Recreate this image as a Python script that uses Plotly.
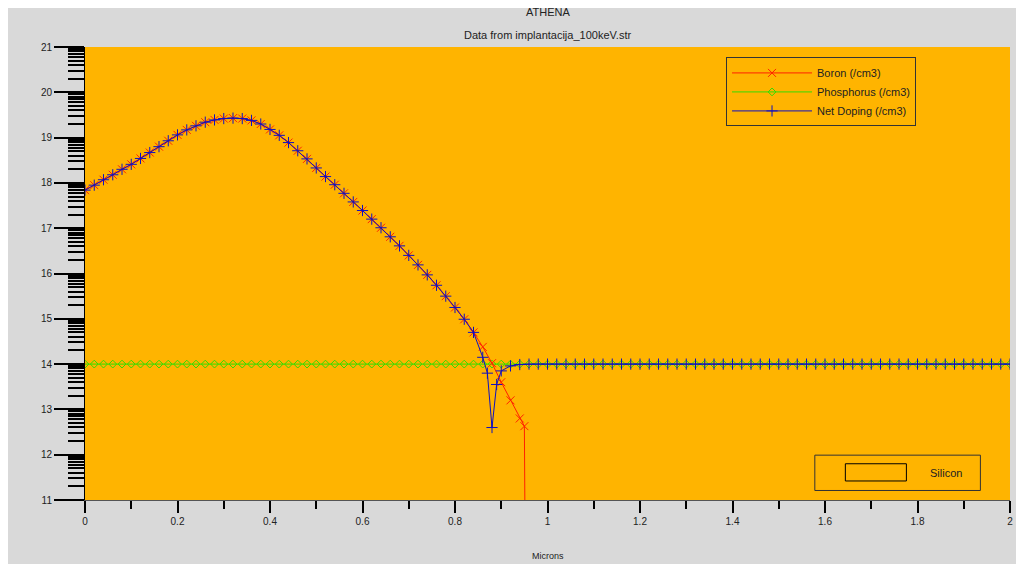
import numpy as np
import plotly.graph_objects as go

boron_x = [0,.02,.04,.06,.08,.10,.12,.14,.16,.18,.20,.22,.24,.26,.28,.30,.32,.34,.36,.38,.40,.42,.44,.46,.48,.50,.52,.54,.56,.58,.60,.62,.64,.66,.68,.70,.72,.74,.76,.78,.80,.82,.84,.86,.88,.90,.92,.94,.95]
boron_y = [17.84,17.95,18.07,18.18,18.3,18.41,18.54,18.67,18.8,18.93,19.06,19.17,19.26,19.34,19.39,19.42,19.43,19.42,19.38,19.3,19.18,19.05,18.89,18.71,18.53,18.33,18.14,17.96,17.77,17.58,17.39,17.2,17.01,16.81,16.61,16.4,16.19,15.97,15.74,15.5,15.25,14.99,14.7,14.38,14.02,13.6,13.2,12.8,12.63]
boron_tail_x = [0.95, 0.951]
boron_tail_y = [12.63, 11.0]

net_x = boron_x[:43] + [.86,.87,.88,.89,.90,.92,.94] + [round(0.96 + 0.02*i, 2) for i in range(53)]
net_y = boron_y[:43] + [14.15,13.8,12.6,13.55,13.85,13.96,13.99] + [14.0]*53

phos_x = [round(0.02*i, 2) for i in range(101)]
phos_y = [14.0]*101

fig = go.Figure()
fig.add_trace(go.Scatter(x=phos_x, y=phos_y, mode="lines+markers", name="Phosphorus (/cm3)", legendrank=2,
    line=dict(color="#33dd00", width=1), marker=dict(symbol="diamond-open", size=6, color="#33dd00")))
fig.add_trace(go.Scatter(x=boron_tail_x, y=boron_tail_y, mode="lines", showlegend=False,
    line=dict(color="#ff2000", width=1)))
fig.add_trace(go.Scatter(x=boron_x, y=boron_y, mode="lines+markers", name="Boron (/cm3)", legendrank=1,
    line=dict(color="#ff2000", width=1), marker=dict(symbol="x-thin", size=8, line=dict(color="#ff2000", width=1))))
fig.add_trace(go.Scatter(x=net_x, y=net_y, mode="lines+markers", name="Net Doping (/cm3)", legendrank=3,
    line=dict(color="#1010c0", width=1), marker=dict(symbol="cross-thin", size=8, line=dict(color="#1010c0", width=1))))

ymin = [k + np.log10(m) for k in range(11, 21) for m in range(2, 10)]
fig.update_layout(
    width=1016, height=556, paper_bgcolor="#d9d9d9", plot_bgcolor="#ffb400",
    margin=dict(l=77, r=14, t=39, b=64),
    font=dict(family="Liberation Sans, Arial", size=11, color="#222"),
    xaxis=dict(range=[0, 2], dtick=0.2, showgrid=False, zeroline=False, ticks="outside", ticklen=12,
               tickcolor="#000", tickwidth=2, showline=True, linecolor="#555",
               minor=dict(dtick=0.1, ticks="outside", ticklen=8, tickcolor="#000"),
               tickfont=dict(size=10), tickformat="~g"),
    yaxis=dict(range=[11, 21], dtick=1, showgrid=False, zeroline=False, ticks="outside", ticklen=30,
               tickcolor="#000", tickwidth=2, showline=True, linecolor="#000",
               minor=dict(tickvals=ymin, ticks="outside", ticklen=16, tickcolor="#000", tickwidth=2),
               tickfont=dict(size=10)),
    legend=dict(x=0.693, y=0.977, xanchor="left", yanchor="top", bgcolor="#ffb400",
                bordercolor="#333", borderwidth=1, font=dict(size=11), itemwidth=80,
                entrywidth=220, tracegroupgap=0),
    showlegend=True,
)
fig.add_annotation(text="ATHENA", x=0.5, xref="paper", y=1.0, yref="paper", yshift=35, yanchor="middle", showarrow=False, font=dict(size=11))
fig.add_annotation(text="Data from implantacija_100keV.str", x=0.5, xref="paper", y=1.0, yref="paper", yshift=12, yanchor="middle", showarrow=False, font=dict(size=11))
fig.add_annotation(text="Microns", x=0.5, xref="paper", y=0, yref="paper", yshift=-56, yanchor="middle", showarrow=False, font=dict(size=9))
fig.add_shape(type="rect", xref="paper", yref="paper", x0=0.789, x1=0.968, y0=0.021, y1=0.099,
              line=dict(color="#333", width=1), fillcolor="#ffb400")
fig.add_shape(type="rect", xref="paper", yref="paper", x0=0.822, x1=0.888, y0=0.042, y1=0.08,
              line=dict(color="#000", width=1), fillcolor="#ffb400")
fig.add_annotation(text="Silicon", xref="paper", yref="paper", x=0.95, y=0.06, xanchor="right", yanchor="middle",
                   showarrow=False, font=dict(size=11))
fig.write_html("out.html")
